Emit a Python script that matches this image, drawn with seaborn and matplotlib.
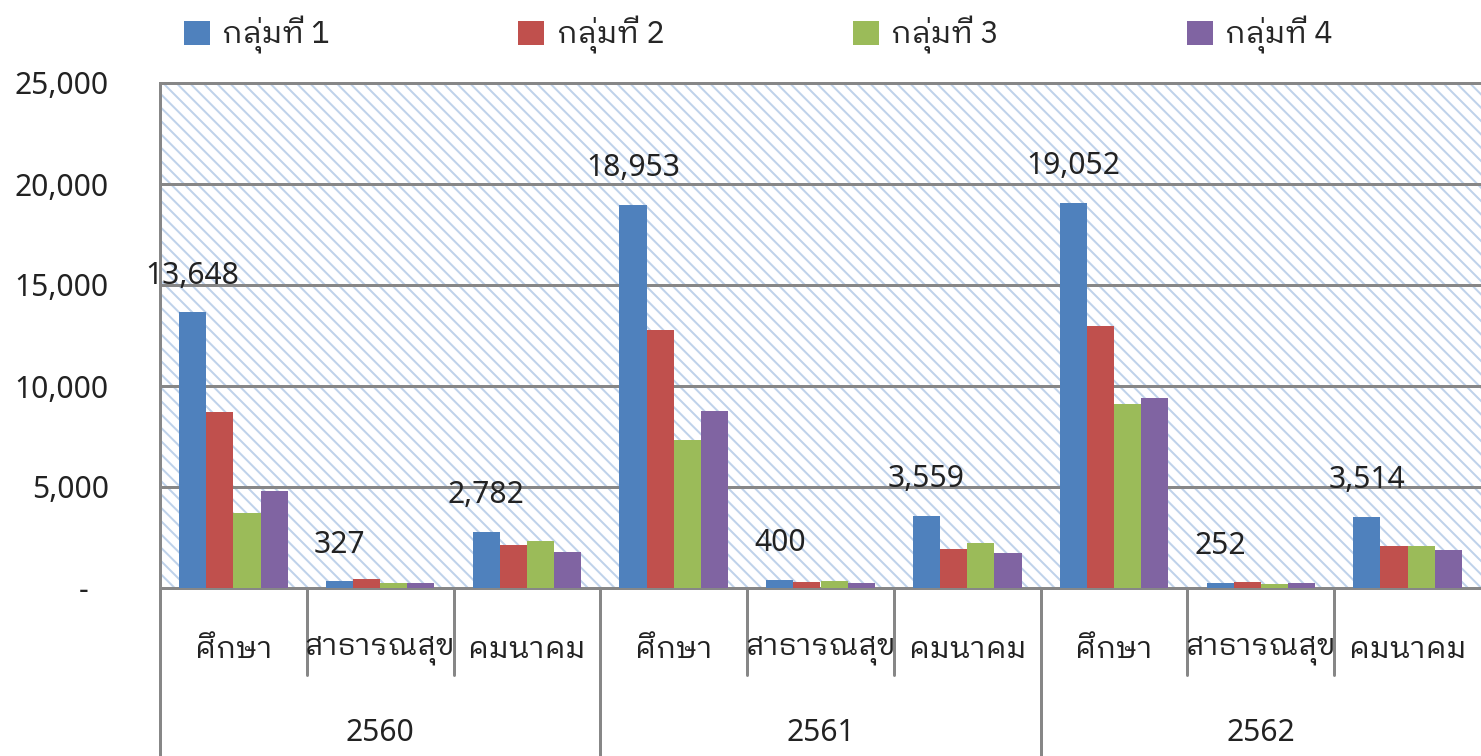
import matplotlib
matplotlib.use("Agg")
import matplotlib.pyplot as plt
import matplotlib.transforms as mtransforms
from matplotlib import font_manager
import pandas as pd
import seaborn as sns

# ข้อมูล (อ่านจากภาพ)
years = ['2560', '2561', '2562']
sectors = ['ศึกษา', 'สาธารณสุข', 'คมนาคม']
groups = ['กลุ่มที่ 1', 'กลุ่มที่ 2', 'กลุ่มที่ 3', 'กลุ่มที่ 4']
g1 = [13648, 327, 2782, 18953, 400, 3559, 19052, 252, 3514]
g2 = [8700, 450, 2150, 12750, 320, 1950, 12950, 300, 2100]
g3 = [3700, 230, 2350, 7350, 370, 2250, 9100, 220, 2100]
g4 = [4800, 250, 1800, 8750, 240, 1750, 9400, 240, 1900]
yticks = [0, 5000, 10000, 15000, 20000, 25000]

colors = ['#4F81BD', '#C0504D', '#9BBB59', '#8064A2']
grid_col = '#878787'

# หา font ภาษาไทยแบบมีหัว
available = sorted({f.name for f in font_manager.fontManager.ttflist})
looped = [n for n in available if 'Thai' in n and 'Looped' in n]
thai_font = 'Noto Sans'
for name in looped + ['Sarabun', 'Thasadith', 'Niramit', 'Krub']:
    if name in available:
        thai_font = name
        break
thai_family = [thai_font, 'Noto Sans', 'DejaVu Sans']

sns.set_style('white')
plt.rcParams['font.family'] = ['Noto Sans', 'DejaVu Sans']
plt.rcParams['hatch.linewidth'] = 1.2

cats = [f'{y}-{s}' for y in years for s in sectors]
rows = []
for gname, vals in zip(groups, [g1, g2, g3, g4]):
    for c, v in zip(cats, vals):
        rows.append({'cat': c, 'group': gname, 'value': v})
df = pd.DataFrame(rows)

fig = plt.figure(figsize=(1481 / 120, 756 / 120), dpi=120)
ax = fig.add_axes([160 / 1481, 1 - 588 / 756, 1321 / 1481, 505 / 756])

# พื้นหลังลายทแยง
ax.patch.set_facecolor('white')
ax.patch.set_hatch('\\\\\\')
ax.patch.set_edgecolor('#BFD2EA')
ax.patch.set_linewidth(0)

sns.barplot(data=df, x='cat', y='value', hue='group', order=cats, hue_order=groups,
            palette=colors, width=0.74, gap=0, errorbar=None, linewidth=0,
            saturation=1, ax=ax, zorder=3)

ax.set_xlim(-0.5, len(cats) - 0.5)
ax.set_ylim(0, 25000)
ax.set_yticks(yticks)
ax.set_yticklabels(['-' if t == 0 else f'{t:,}' for t in yticks], fontsize=18)
ax.tick_params(axis='y', length=7.8, width=1.8, color=grid_col, pad=23, labelcolor='#222222')
ax.tick_params(axis='x', length=0, labelbottom=False)
ax.set_xlabel('')
ax.set_ylabel('')
ax.grid(axis='y', color=grid_col, linewidth=1.8, zorder=1)
ax.set_axisbelow(True)
for side in ['left', 'bottom', 'top']:
    ax.spines[side].set_color(grid_col)
    ax.spines[side].set_linewidth(1.8)
ax.spines['right'].set_visible(False)

# ขีด "-" ที่ศูนย์ขยับไปทางซ้าย
zero_lbl = ax.get_yticklabels()[0]
zero_lbl.set_transform(zero_lbl.get_transform() +
                       mtransforms.ScaledTranslation(-20 / 120, 0, fig.dpi_scale_trans))

# ค่าบนแท่งกลุ่มที่ 1
ax.bar_label(ax.containers[0], labels=[f'{v:,}' for v in g1], padding=13,
             fontsize=18, color='#222222')

# แกน x แบบสองชั้น
xt = ax.get_xaxis_transform()
for i in range(len(cats)):
    ax.text(i, -0.123, sectors[i % 3], transform=xt, ha='center', va='center',
            fontsize=18, color='#222222', family=thai_family)
    if i % 3 == 0:
        ax.plot([i - 0.5, i - 0.5], [0, -0.34], transform=xt, color=grid_col,
                lw=1.8, clip_on=False)
    else:
        ax.plot([i - 0.5, i - 0.5], [0, -0.172], transform=xt, color=grid_col,
                lw=1.8, clip_on=False)
for j, y in enumerate(years):
    ax.text(3 * j + 1, -0.287, y, transform=xt, ha='center', va='center',
            fontsize=18, color='#222222')

sns.move_legend(ax, 'center', bbox_to_anchor=(0.453, 1.095), ncol=4, frameon=False,
                title=None, prop={'family': thai_family, 'size': 18.5},
                handlelength=0.85, handleheight=0.85,
                handletextpad=0.4, columnspacing=6.1)

fig.savefig('out.png', dpi=120)
